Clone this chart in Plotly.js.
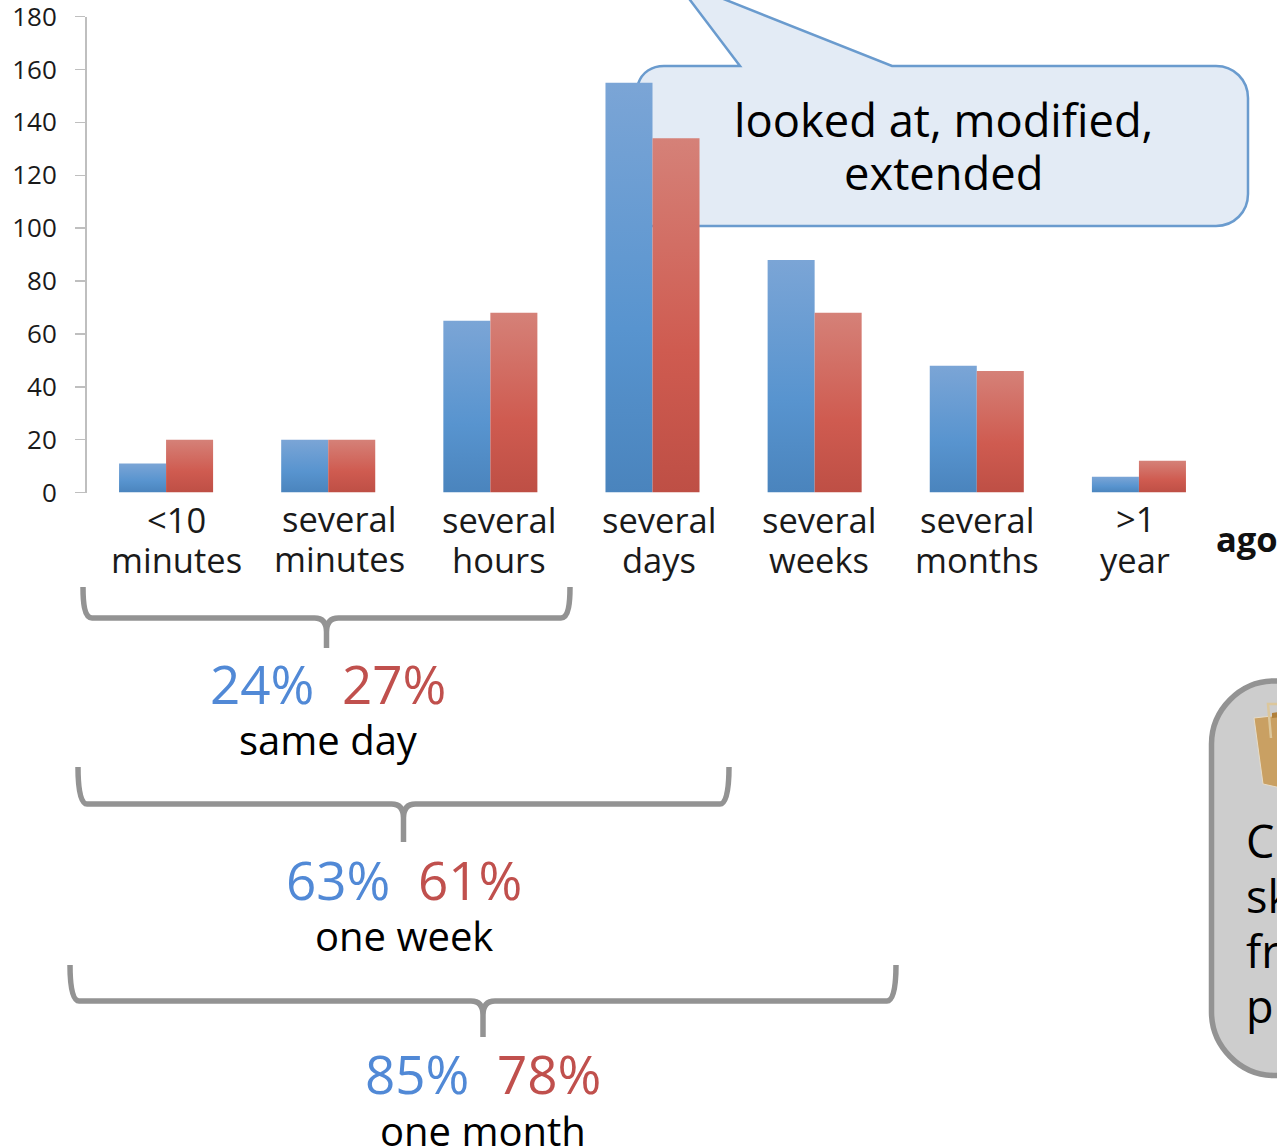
<!DOCTYPE html>
<html>
<head>
<meta charset="utf-8">
<script src="https://cdn.plot.ly/plotly-3.0.1.min.js"></script>
<style>html,body{margin:0;padding:0;background:#fff;overflow:hidden}</style>
</head>
<body>
<div id="chart" style="width:1277px;height:1147px"></div>
<script>
// Response-time histogram with cumulative share brackets beneath it.
const categories = ['<10 minutes', 'several minutes', 'several hours', 'several days', 'several weeks', 'several months', '>1 year'];
const blueValues = [11, 20, 65, 155, 88, 48, 6];
const redValues = [20, 20, 68, 134, 68, 46, 12];
const yTicks = [0, 20, 40, 60, 80, 100, 120, 140, 160, 180];
const categoryLines = [['<10', 'minutes'], ['several', 'minutes'], ['several', 'hours'], ['several', 'days'], ['several', 'weeks'], ['several', 'months'], ['>1', 'year']];
const categoryCenters = [176, 339, 498.5, 659, 819, 976.5, 1135];
const shareLabels = ['same day', 'one week', 'one month'];
const blueShares = ['24%', '63%', '85%'];
const redShares = ['27%', '61%', '78%'];

const W = 1277, H = 1147;
const px = x => x / W;
const py = y => 1 - y / H;
const BLUE_TEXT = '#5189d6', RED_TEXT = '#c0504d', FONT = '"Open Sans", sans-serif';

// Pixel-space path helper: turns ['M', [x, y], 'L', [x, y], ...] into paper fractions.
function paperPath(parts) {
  return parts.map(p => typeof p === 'string' ? p : `${px(p[0]).toFixed(5)},${py(p[1]).toFixed(5)}`).join(' ');
}
function pathShape(parts, fill, color, width, layer) {
  return {type: 'path', xref: 'paper', yref: 'paper', layer: layer || 'above',
          path: paperPath(parts), fillcolor: fill, line: {color: color, width: width}};
}
function brace(x0, x1, top, bar, tip) {
  const c = (x0 + x1) / 2;
  return pathShape(['M', [x0, top], 'C', [x0, top + 14], [x0 + 1, bar], [x0 + 9, bar],
    'L', [c - 12, bar], 'Q', [c, bar], [c, bar + 14], 'L', [c, tip], 'L', [c, bar + 14], 'Q', [c, bar], [c + 12, bar],
    'L', [x1 - 9, bar], 'C', [x1 - 1, bar], [x1, top + 14], [x1, top]],
    'rgba(0,0,0,0)', '#939393', 5.5);
}

function label(text, x, y, size, color, extra) {
  return Object.assign({xref: 'paper', yref: 'paper', x: px(x), y: py(y), text: text, showarrow: false,
    xanchor: 'center', yanchor: 'middle', font: {family: FONT, size: size, color: color}}, extra || {});
}

const annotations = [];
categoryLines.forEach((lines, i) => {
  const lift = i === 1 ? 1 : 0;
  annotations.push(label(lines[0], categoryCenters[i], 519 - lift - (i === 6 ? 1 : 0), 34.5, '#1a1a1a'));
  annotations.push(label(lines[1], categoryCenters[i], 559 - lift, 34.5, '#1a1a1a'));
});
annotations.push(label('<b>ago</b>', 1214, 538, 34.5, '#111', {xanchor: 'left'}));

const shareCenters = [328, 404, 483];
const shareRows = [683, 879, 1073];
const captionRows = [739, 935, 1130];
shareLabels.forEach((t, i) => {
  annotations.push(label(blueShares[i], shareCenters[i] - 66, shareRows[i], 53, BLUE_TEXT));
  annotations.push(label(redShares[i], shareCenters[i] + 66, shareRows[i], 53, RED_TEXT));
  annotations.push(label(t, shareCenters[i], captionRows[i], 40, '#000'));
});

annotations.push(label('looked at, modified,', 943, 120, 45.3, '#000'));
annotations.push(label('extended', 943, 172.5, 45.3, '#000'));
['C', 'sk', 'fr', 'p'].forEach((t, i) => {
  annotations.push(label(t, 1244, 840 + i * 55, 45, '#000', {xanchor: 'left'}));
});

const shapes = [
  // callout behind the bars
  pathShape(['M', [687, -4], 'L', [740, 66], 'L', [664, 66], 'C', [652, 66], [642, 72], [638, 84], 'L', [638, 226],
    'L', [1216, 226], 'C', [1234, 226], [1248, 212], [1248, 194], 'L', [1248, 98], 'C', [1248, 80], [1234, 66], [1216, 66],
    'L', [892, 66], 'L', [716, -4], 'Z'],
    '#e3ebf5', '#6a9bce', 2.5, 'below'),
  brace(83, 570, 587, 618, 648),
  brace(78, 729, 767, 804, 842),
  brace(70, 896, 965, 1001, 1037),
  // grey note box, running past the right edge
  pathShape(['M', [1300, 681], 'L', [1274, 681], 'C', [1240, 681], [1211.5, 710], [1211.5, 744], 'L', [1211.5, 1012],
    'C', [1211.5, 1046], [1240, 1075.5], [1274, 1075.5], 'L', [1300, 1075.5], 'Z'],
    '#cdcdcd', '#939393', 5.5),
  // paper bag
  pathShape(['M', [1254, 718], 'L', [1290, 714], 'L', [1290, 790], 'L', [1263, 784], 'Z'], '#c9a063', '#e6dcc8', 1),
  pathShape(['M', [1272, 713], 'L', [1290, 710], 'L', [1290, 716], 'L', [1272, 718], 'Z'], '#b0803c', '#b0803c', 0),
  pathShape(['M', [1271, 738], 'L', [1268, 704], 'L', [1290, 704]], 'rgba(0,0,0,0)', '#dcc79c', 2.5)
];

const data = [
  {type: 'bar', x: categories, y: blueValues, marker: {color: '#5b95cf', line: {width: 0}}, name: 'blue'},
  {type: 'bar', x: categories, y: redValues, marker: {color: '#cf5b50', line: {width: 0}}, name: 'red'}
];

const layout = {
  width: W, height: H, margin: {l: 0, r: 0, t: 0, b: 0}, showlegend: false,
  paper_bgcolor: '#fff', plot_bgcolor: 'rgba(0,0,0,0)',
  barmode: 'group', bargap: 0.42, bargroupgap: 0,
  xaxis: {domain: [px(85), px(1220)], type: 'category', showticklabels: false, ticks: '', showline: false, showgrid: false, zeroline: false},
  yaxis: {domain: [py(492.6), py(16.6)], range: [0, 180], anchor: 'free', position: px(86),
    tickmode: 'array', tickvals: yTicks, ticktext: yTicks.map(String),
    showgrid: false, zeroline: false, showline: true, linecolor: '#bfbfbf', linewidth: 2,
    ticks: 'outside', ticklen: 10, tickcolor: '#bfbfbf', tickwidth: 1.5, ticklabelstandoff: 13, ticklabeloverflow: 'allow',
    tickfont: {family: FONT, size: 26, color: '#1a1a1a'}},
  shapes: shapes, annotations: annotations
};

// Vertical three-stop gradient per bar, applied to the bars Plotly has drawn.
function addGradient(svg, id, stops) {
  const ns = 'http://www.w3.org/2000/svg';
  const g = document.createElementNS(ns, 'linearGradient');
  g.setAttribute('id', id); g.setAttribute('x1', 0); g.setAttribute('x2', 0); g.setAttribute('y1', 0); g.setAttribute('y2', 1);
  stops.forEach(s => {
    const st = document.createElementNS(ns, 'stop');
    st.setAttribute('offset', s[0]); st.setAttribute('stop-color', s[1]);
    g.appendChild(st);
  });
  svg.querySelector('defs').appendChild(g);
}
Plotly.newPlot('chart', data, layout, {displayModeBar: false, staticPlot: true}).then(gd => {
  const svg = gd.querySelector('.main-svg');
  addGradient(svg, 'blueFill', [[0, '#7ba5d6'], [0.6, '#5894cf'], [1, '#4a84bd']]);
  addGradient(svg, 'redFill', [[0, '#d58178'], [0.6, '#cf5b50'], [1, '#be4f45']]);
  const traces = gd.querySelectorAll('.barlayer .trace');
  ['blueFill', 'redFill'].forEach((id, i) => {
    traces[i].querySelectorAll('path').forEach(p => { p.style.fill = `url(#${id})`; });
  });
});
</script>
</body>
</html>
